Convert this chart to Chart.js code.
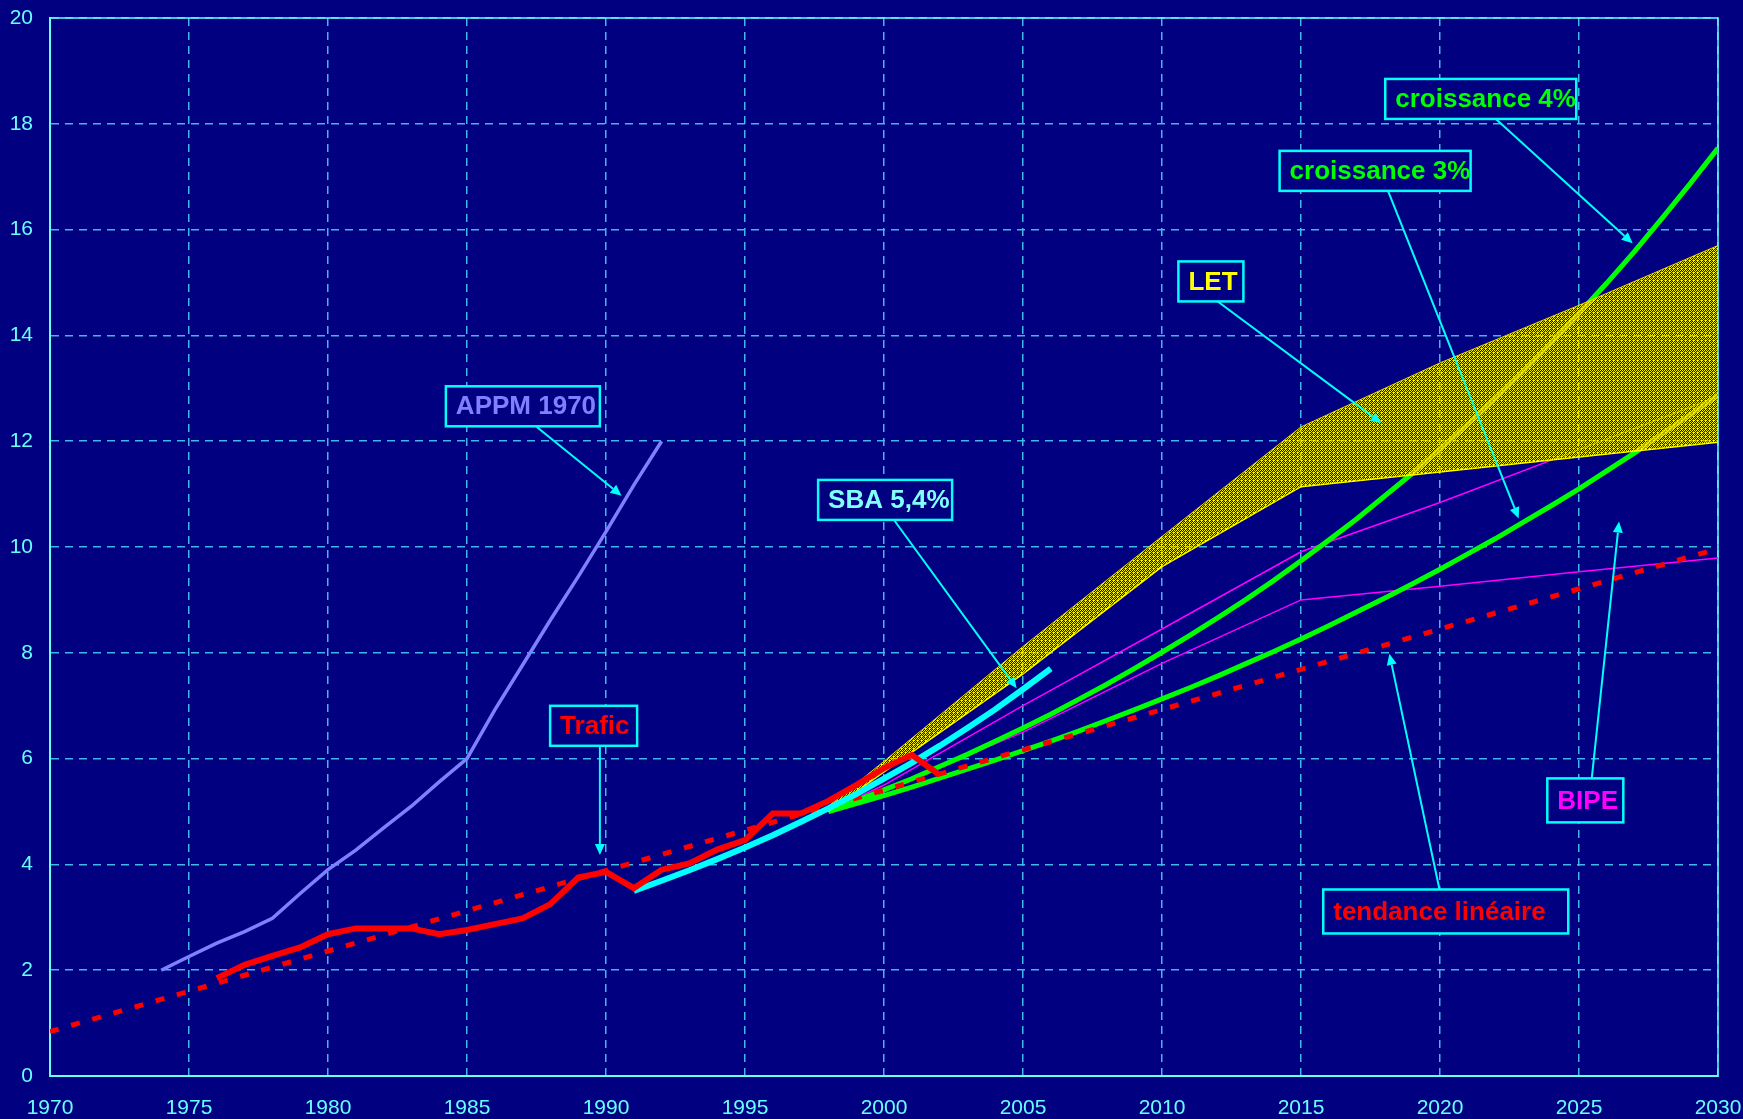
<!DOCTYPE html>
<html>
<head>
<meta charset="utf-8">
<title>Trafic - projections</title>
<script src="https://cdn.jsdelivr.net/npm/chart.js@4/dist/chart.umd.min.js"></script>
<style>
  html, body { margin: 0; padding: 0; background: #000080; }
  #wrap { width: 1743px; height: 1119px; }
</style>
</head>
<body>
<div id="wrap"><canvas id="chart" width="1743" height="1119"></canvas></div>
<script>
const NAVY = "#000080";
const TICK = "#66FFFF";
const GRID = "#40B8E8";
const FONT = "'Liberation Sans', Arial, sans-serif";

// axis ranges
const yearMin = 1970;
const yearMax = 2030;
const valMin = 0;
const valMax = 20;

// Trafic (observed)
const traficYears = [1976, 1977, 1978, 1979, 1980, 1981, 1982, 1983, 1984, 1985, 1986, 1987, 1988, 1989, 1990,
  1991, 1992, 1993, 1994, 1995, 1996, 1997, 1998, 1999, 2000, 2001, 2002];
const traficVals = [1.85, 2.10, 2.27, 2.43, 2.68, 2.79, 2.79, 2.79, 2.68, 2.76, 2.87, 2.98, 3.25, 3.75, 3.86,
  3.55, 3.90, 4.02, 4.28, 4.46, 4.96, 4.96, 5.20, 5.50, 5.82, 6.07, 5.69];

// tendance linéaire
const trendYears = [1970, 2030];
const trendVals = [0.84, 9.97];

// APPM 1970
const appmYears = [1974, 1975, 1976, 1977, 1978, 1979, 1980, 1981, 1982, 1983, 1984, 1985,
  1986, 1987, 1988, 1989, 1990, 1991, 1992];
const appmVals = [2.00, 2.26, 2.51, 2.73, 2.98, 3.45, 3.90, 4.27, 4.69, 5.10, 5.56, 6.00,
  6.92, 7.77, 8.62, 9.44, 10.29, 11.17, 12.00];

// SBA 5,4%
const sbaYears = [1991, 1992, 1993, 1994, 1995, 1996, 1997, 1998, 1999, 2000, 2001, 2002, 2003, 2004, 2005, 2006];
const sbaVals = [3.50, 3.69, 3.89, 4.10, 4.32, 4.55, 4.80, 5.06, 5.33, 5.62, 5.92, 6.24, 6.58, 6.93, 7.31, 7.70];

// croissance 3% / 4%
const growthYears = [1998, 1999, 2000, 2001, 2002, 2003, 2004, 2005, 2006, 2007, 2008, 2009, 2010, 2011, 2012,
  2013, 2014, 2015, 2016, 2017, 2018, 2019, 2020, 2021, 2022, 2023, 2024, 2025, 2026, 2027, 2028, 2029, 2030];
const growth3Vals = [5.00, 5.15, 5.30, 5.46, 5.63, 5.80, 5.97, 6.15, 6.33, 6.52, 6.72, 6.92, 7.13, 7.34, 7.56,
  7.79, 8.02, 8.26, 8.51, 8.77, 9.03, 9.30, 9.58, 9.87, 10.16, 10.47, 10.78, 11.10, 11.44, 11.78, 12.14, 12.50, 12.87];
const growth4Vals = [5.00, 5.20, 5.41, 5.62, 5.85, 6.08, 6.33, 6.58, 6.84, 7.12, 7.40, 7.70, 8.01, 8.33, 8.66,
  9.00, 9.36, 9.74, 10.13, 10.53, 10.96, 11.39, 11.85, 12.32, 12.82, 13.33, 13.86, 14.42, 14.99, 15.59, 16.22, 16.87, 17.54];

// BIPE (two scenarios)
const bipeYears = [1998, 2000, 2005, 2010, 2015, 2020, 2025, 2030];
const bipeHighVals = [5.00, 5.50, 7.00, 8.45, 9.91, 10.84, 11.84, 12.84];
const bipeLowVals = [5.00, 5.40, 6.50, 7.80, 9.00, 9.26, 9.53, 9.79];

// LET (range)
const letYears = [1998, 2000, 2005, 2010, 2015, 2020, 2025, 2030];
const letHighVals = [5.10, 5.95, 8.12, 10.20, 12.27, 13.48, 14.57, 15.70];
const letLowVals = [5.00, 5.75, 7.60, 9.63, 11.14, 11.42, 11.70, 11.98];

// callouts: box left edge (year), box centre (value), arrow start and tip in data units
const notes = [
  { text: "APPM 1970", color: "#8080FF", left: 1984.24, y: 12.66, w: 154, sx: 1987.51, sy: 12.27, tx: 1990.56, ty: 10.97 },
  { text: "Trafic", color: "#FF0000", left: 1987.99, y: 6.62, w: 87, sx: 1989.78, sy: 6.24, tx: 1989.78, ty: 4.18 },
  { text: "SBA 5,4%", color: "#80FFFF", left: 1997.63, y: 10.89, w: 134, sx: 2000.36, sy: 10.51, tx: 2004.77, ty: 7.33 },
  { text: "LET", color: "#FFFF00", left: 2010.59, y: 15.02, w: 65, sx: 2011.98, sy: 14.65, tx: 2017.90, ty: 12.34 },
  { text: "croissance 3%", color: "#00FF00", left: 2014.23, y: 17.11, w: 191, sx: 2018.13, sy: 16.73, tx: 2022.83, ty: 10.54 },
  { text: "croissance 4%", color: "#00FF00", left: 2018.03, y: 18.47, w: 191, sx: 2022.01, sy: 18.09, tx: 2026.93, ty: 15.74 },
  { text: "BIPE", color: "#FF00FF", left: 2023.86, y: 5.21, w: 76, h: 44, sx: 2025.46, sy: 5.63, tx: 2026.44, ty: 10.48 },
  { text: "tendance linéaire", color: "#FF0000", left: 2015.80, y: 3.11, w: 245, h: 44, sx: 2019.98, sy: 3.53, tx: 2018.18, ty: 7.98 },
];

function pts(xs, ys) {
  return xs.map((x, i) => ({ x, y: ys[i] }));
}

function makeStipple() {
  const c = document.createElement("canvas");
  c.width = 4;
  c.height = 4;
  const g = c.getContext("2d");
  const on = [[0, 0], [2, 0], [1, 1], [3, 1], [0, 2], [2, 2], [1, 3], [3, 3], [1, 0]];
  on.forEach(([px, py], i) => {
    g.fillStyle = i % 3 === 0 ? "#B8A800" : "#FFFF00";
    g.fillRect(px, py, 1, 1);
  });
  return g.createPattern(c, "repeat");
}

function line(data, color, width, extra) {
  return Object.assign({
    data,
    borderColor: color,
    borderWidth: width,
    pointRadius: 0,
    tension: 0,
    fill: false,
  }, extra || {});
}

const framePlugin = {
  id: "frame",
  beforeDatasetsDraw(chart) {
    const { ctx, chartArea: a } = chart;
    ctx.save();
    ctx.strokeStyle = TICK;
    ctx.lineWidth = 1.5;
    ctx.strokeRect(a.left, a.top, a.right - a.left, a.bottom - a.top);
    ctx.restore();
  },
};

function drawArrow(ctx, x1, y1, x2, y2) {
  const ang = Math.atan2(y2 - y1, x2 - x1);
  const head = 11;
  const half = 5;
  const bx = x2 - head * Math.cos(ang);
  const by = y2 - head * Math.sin(ang);
  ctx.beginPath();
  ctx.moveTo(x1, y1);
  ctx.lineTo(bx, by);
  ctx.stroke();
  ctx.beginPath();
  ctx.moveTo(x2, y2);
  ctx.lineTo(bx + half * Math.sin(ang), by - half * Math.cos(ang));
  ctx.lineTo(bx - half * Math.sin(ang), by + half * Math.cos(ang));
  ctx.closePath();
  ctx.fill();
}

const notesPlugin = {
  id: "notes",
  afterDatasetsDraw(chart) {
    const { ctx, scales: { x, y } } = chart;
    ctx.save();
    ctx.strokeStyle = "#00FFFF";
    ctx.fillStyle = "#00FFFF";
    ctx.lineWidth = 2;
    notes.forEach((n) => {
      drawArrow(ctx, x.getPixelForValue(n.sx), y.getPixelForValue(n.sy),
        x.getPixelForValue(n.tx), y.getPixelForValue(n.ty));
    });
    ctx.font = "bold 26px " + FONT;
    ctx.textBaseline = "middle";
    notes.forEach((n) => {
      const h = n.h || 40;
      const left = x.getPixelForValue(n.left);
      const cy = y.getPixelForValue(n.y);
      ctx.fillStyle = NAVY;
      ctx.fillRect(left, cy - h / 2, n.w, h);
      ctx.lineWidth = 2.5;
      ctx.strokeStyle = "#00FFFF";
      ctx.strokeRect(left, cy - h / 2, n.w, h);
      ctx.fillStyle = n.color;
      ctx.fillText(n.text, left + 10, cy + 1);
    });
    ctx.restore();
  },
};

const stipple = makeStipple();

new Chart(document.getElementById("chart"), {
  type: "line",
  data: {
    datasets: [
      line(pts(traficYears, traficVals), "#FF0000", 6),
      line(pts(sbaYears, sbaVals), "#00FFFF", 6),
      line(pts(letYears, letHighVals), "#E8D800", 1, { fill: "+1", backgroundColor: stipple }),
      line(pts(letYears, letLowVals), "#FFFF00", 1.5),
      line(pts(trendYears, trendVals), "#FF0000", 5, { borderDash: [9, 13] }),
      line(pts(growthYears, growth4Vals), "#00FF00", 5),
      line(pts(growthYears, growth3Vals), "#00FF00", 5),
      line(pts(bipeYears, bipeHighVals), "#FF00FF", 1.5),
      line(pts(bipeYears, bipeLowVals), "#FF00FF", 1.5),
      line(pts(appmYears, appmVals), "#8080FF", 3.5),
    ],
  },
  options: {
    responsive: false,
    animation: false,
    layout: { padding: { left: 0, right: 25, top: 18, bottom: 0 } },
    plugins: { legend: { display: false }, tooltip: { enabled: false } },
    scales: {
      x: {
        type: "linear",
        min: yearMin,
        max: yearMax,
        ticks: {
          stepSize: 5,
          color: TICK,
          font: { family: FONT, size: 21 },
          padding: 20,
          maxRotation: 0,
          autoSkip: false,
          callback: (v) => String(v),
        },
        grid: { color: GRID, lineWidth: 1.5, drawTicks: false },
        border: { color: TICK, width: 2, dash: [8, 6] },
        afterFit: (s) => {
          s.height = 43;
          s.paddingLeft = 0;
          s.paddingRight = 0;
        },
      },
      y: {
        min: valMin,
        max: valMax,
        ticks: {
          stepSize: 2,
          color: TICK,
          font: { family: FONT, size: 21 },
          padding: 17,
        },
        grid: { color: GRID, lineWidth: 1.5, drawTicks: false },
        border: { color: TICK, width: 2, dash: [8, 6] },
        afterFit: (s) => {
          s.width = 50;
          s.paddingTop = 0;
          s.paddingBottom = 0;
        },
      },
    },
  },
  plugins: [framePlugin, notesPlugin],
});
</script>
</body>
</html>
